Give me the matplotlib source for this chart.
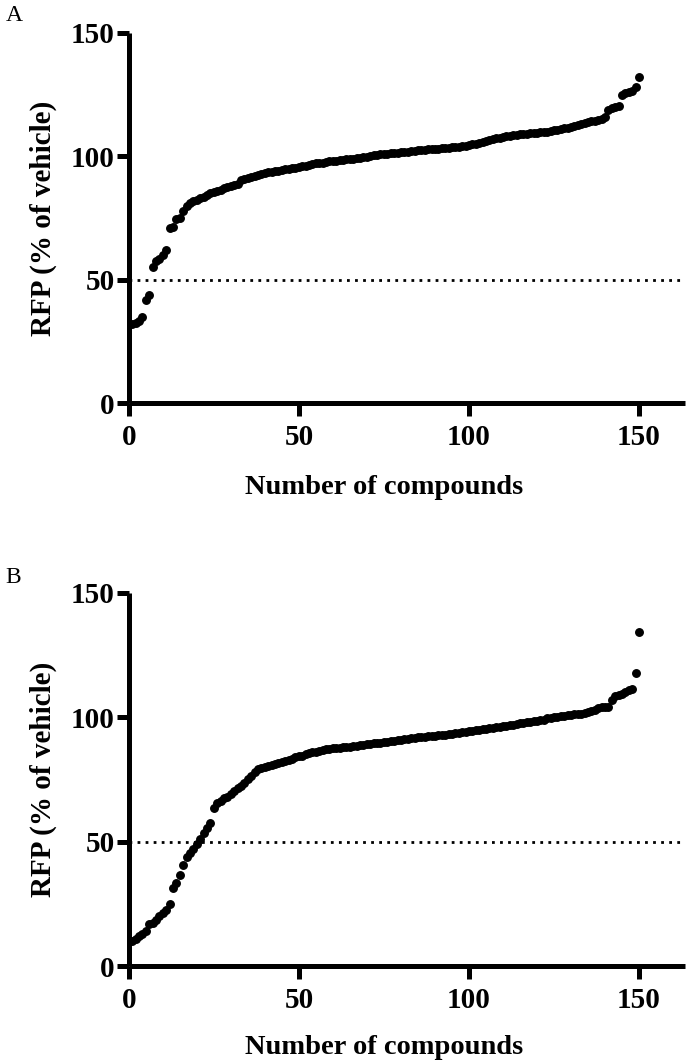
import numpy as np
import matplotlib
matplotlib.use("Agg")
import matplotlib.pyplot as plt

plt.rcParams['font.family'] = ['Liberation Serif', 'DejaVu Serif']

# ranked RFP values (% of vehicle), panel A
rfp_a = [32, 32.5, 33.5, 35, 42, 44, 55, 57.5, 58.5, 60,
         62, 71, 71.5, 74.5, 75, 78, 80, 81, 82, 82.5,
         83, 83.5, 84.5, 85, 85.5, 86, 86.5, 87, 87.5, 88,
         88.5, 89, 90.5, 91, 91.3, 91.8, 92.2, 92.5, 93, 93.2,
         93.5, 93.7, 94, 94.2, 94.5, 94.7, 95, 95.2, 95.5, 95.7,
         96, 96.3, 96.6, 97, 97.2, 97.4, 97.5, 97.7, 98, 98.1,
         98.3, 98.5, 98.6, 98.8, 99, 99.1, 99.3, 99.5, 99.6, 99.8,
         100, 100.4, 100.6, 100.8, 101, 101.1, 101.2, 101.4, 101.5, 101.6,
         101.8, 101.9, 102, 102.2, 102.4, 102.5, 102.6, 102.8, 102.9, 103,
         103.2, 103.3, 103.5, 103.6, 103.8, 104, 104, 104.2, 104.4, 104.6,
         104.9, 105.2, 105.6, 106, 106.3, 106.6, 107, 107.3, 107.6, 107.9,
         108.1, 108.3, 108.5, 108.8, 109, 109.1, 109.2, 109.4, 109.5, 109.6,
         109.8, 109.9, 110, 110.2, 110.5, 110.8, 111.2, 111.5, 111.7, 112,
         112.3, 112.7, 113, 113.5, 113.8, 114.2, 114.5, 114.8, 115, 116,
         119, 119.5, 120, 120.5, 125, 125.5, 126, 126.5, 128, 132]

# ranked RFP values (% of vehicle), panel B
rfp_b = [10, 11, 12, 13, 14, 17, 17.5, 18.5, 20, 21.5,
         22.5, 25, 31.5, 33.5, 36.5, 40.5, 44, 45.5, 47, 49,
         51, 53.5, 55.5, 57.5, 63.5, 65.5, 66.5, 67.5, 68, 69,
         70.5, 71.5, 72.5, 73.5, 75, 76.5, 78, 79, 79.5, 80,
         80.3, 80.7, 81, 81.5, 82, 82.4, 82.8, 83.3, 83.8, 84.2,
         84.5, 85, 85.5, 85.8, 86, 86.4, 86.8, 87.1, 87.3, 87.5,
         87.6, 87.8, 88, 88.1, 88.2, 88.4, 88.5, 88.7, 88.9, 89.1,
         89.3, 89.5, 89.6, 89.8, 89.9, 90.1, 90.3, 90.5, 90.7, 90.9,
         91.1, 91.3, 91.5, 91.7, 91.9, 92, 92.2, 92.3, 92.5, 92.6,
         92.7, 92.8, 93, 93.2, 93.4, 93.6, 93.8, 94, 94.2, 94.4,
         94.6, 94.8, 95, 95.2, 95.4, 95.6, 95.8, 96, 96.2, 96.4,
         96.6, 96.8, 97, 97.4, 97.6, 97.8, 98, 98.1, 98.3, 98.5,
         98.7, 98.9, 99.5, 99.8, 100, 100.2, 100.4, 100.6, 100.8, 101,
         101.1, 101.2, 101.4, 101.6, 102, 102.6, 103, 103.5, 103.9, 104,
         104, 107, 108.5, 108.8, 109.3, 110, 111, 111.5, 117.7, 134]

x_ticks = [0, 50, 100, 150]
y_ticks = [0, 50, 100, 150]
cutoff = 50
panels = ['A', 'B']

fig = plt.figure(figsize=(6.89, 10.64), dpi=100)

# axes boxes in figure fractions: [left, bottom, width, height]
boxes = [[0.187, 0.621, 0.807, 0.348],
         [0.187, 0.092, 0.807, 0.351]]
xlabel_y = [-0.195, -0.185]
letter_y = [0.985, 0.4577]

for letter, vals, box, xly, ly in zip(panels, [rfp_a, rfp_b], boxes, xlabel_y, letter_y):
    ax = fig.add_axes(box)
    n = np.arange(1, len(vals) + 1)
    ax.plot(n, vals, 'o', color='black', ms=5.4, mec='black', clip_on=False, zorder=3)
    ax.axhline(cutoff, color='black', lw=2.0, linestyle=(0, (1, 1.9)), zorder=2)

    ax.set_xlim(0, 163.5)
    ax.set_ylim(0, 150)
    ax.set_xticks(x_ticks)
    ax.set_yticks(y_ticks)

    for side in ['top', 'right']:
        ax.spines[side].set_visible(False)
    for side in ['left', 'bottom']:
        ax.spines[side].set_linewidth(3.6)
        ax.spines[side].set_capstyle('butt')
    ax.tick_params(direction='out', length=9, width=3.6, labelsize=21)
    ax.tick_params(axis='y', pad=1)
    ax.tick_params(axis='x', pad=6)
    for lab in ax.get_xticklabels() + ax.get_yticklabels():
        lab.set_fontweight('bold')

    ax.set_xlabel('Number of compounds', fontsize=20.5, fontweight='bold')
    ax.set_ylabel('RFP (% of vehicle)', fontsize=21, fontweight='bold')
    ax.xaxis.set_label_coords(0.46, xly)
    ax.yaxis.set_label_coords(-0.13, 0.5)

    fig.text(0.008, ly, letter, fontsize=17, ha='left', va='center')

plt.savefig('out.png', dpi=100)
